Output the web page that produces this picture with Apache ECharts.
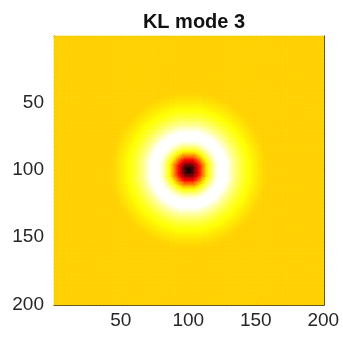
<!DOCTYPE html>
<html><head><meta charset="utf-8">
<script src="https://cdn.jsdelivr.net/npm/echarts@6/dist/echarts.min.js"></script>
<style>html,body{margin:0;padding:0;background:#fff}#c{width:343px;height:338px}</style>
</head><body><div id="c"></div>
<script>
const titleText = 'KL mode 3';
const gridCount = 200;
const centerCoord = 100.5;
// radial profile, one value per unit of radius (0..60)
const radialProfile = [
  0.00, 0.02, 0.05, 0.09, 0.14, 0.20, 0.26, 0.32, 0.38, 0.44,
  0.50, 0.56, 0.62, 0.67, 0.72, 0.76, 0.80, 0.84, 0.88, 0.91,
  0.94, 0.97, 0.99, 1.00, 1.00, 1.00, 1.00, 1.00, 1.00, 0.985,
  0.97, 0.95, 0.93, 0.91, 0.89, 0.875, 0.86, 0.845, 0.83, 0.815,
  0.80, 0.79, 0.78, 0.77, 0.76, 0.752, 0.745, 0.738, 0.73, 0.725,
  0.72, 0.715, 0.71, 0.705, 0.70, 0.695, 0.69, 0.687, 0.685, 0.683,
  0.682
];
const farValue = 0.682;
const tickLabels = ['50', '100', '150', '200'];
const hotColors = ['#000000','#550000','#aa0000','#ff0000','#ff5500','#ffaa00','#ffff00','#ffff80','#ffffff'];

const categories = [];
for (let i = 1; i <= gridCount; i++) categories.push(String(i));
const cells = [];
for (let yi = 0; yi < gridCount; yi++) {
  for (let xi = 0; xi < gridCount; xi++) {
    const dx = (xi + 1) - centerCoord, dy = (yi + 1) - centerCoord;
    const r = Math.round(Math.sqrt(dx * dx + dy * dy));
    const v = r < radialProfile.length ? radialProfile[r] : farValue;
    cells.push([xi, yi, v]);
  }
}
const showTick = (idx, val) => tickLabels.indexOf(String(val)) >= 0;
const lineStyle = { color: '#262626', width: 1 };
const labelStyle = { color: '#262626', fontSize: 19, fontFamily: 'Liberation Sans, Arial, sans-serif' };

function axis(extra) {
  return Object.assign({
    type: 'category', data: categories,
    axisLine: { show: true, onZero: false, lineStyle },
    axisTick: { show: true, inside: true, length: 3, alignWithLabel: true, interval: showTick, lineStyle },
    splitLine: { show: false }
  }, extra);
}

const chart = echarts.init(document.getElementById('c'), null, { renderer: 'canvas' });
chart.setOption({
  animation: false,
  title: {
    text: titleText, left: 189, top: 7, textAlign: 'center',
    textStyle: { fontSize: 20, fontWeight: 'bold', color: '#111', fontFamily: 'Liberation Sans, Arial, sans-serif' }
  },
  grid: { left: 54, right: 19, top: 36, bottom: 33, containLabel: false },
  xAxis: [
    axis({ position: 'bottom', axisLabel: Object.assign({ interval: showTick, margin: 6 }, labelStyle) }),
    axis({ position: 'top', axisLabel: { show: false } })
  ],
  yAxis: [
    axis({ position: 'left', inverse: true, axisLabel: Object.assign({ interval: showTick, margin: 10 }, labelStyle) }),
    axis({ position: 'right', inverse: true, axisLabel: { show: false } })
  ],
  visualMap: { show: false, type: 'continuous', min: 0, max: 1, dimension: 2, inRange: { color: hotColors } },
  series: [{
    type: 'heatmap', xAxisIndex: 0, yAxisIndex: 0, data: cells,
    progressive: 0, itemStyle: { borderWidth: 0 }, emphasis: { disabled: true }
  }]
});
</script></body></html>
